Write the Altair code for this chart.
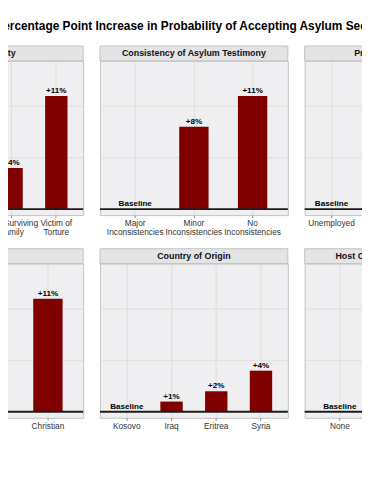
import altair as alt
import pandas as pd

TITLE = "Percentage Point Increase in Probability of Accepting Asylum Seeker"

# Panel names (facet strips), in reading order
panel_names = [
    "Vulnerability",
    "Consistency of Asylum Testimony",
    "Previous Occupation",
    "Religion",
    "Country of Origin",
    "Host Country Language Skills",
]

# Categories (tick labels) per panel ("\n" marks a line break)
vuln_cats = ["None", "PTSD", "Sole Surviving\nFamily", "Victim of\nTorture"]
consist_cats = ["Major\nInconsistencies", "Minor\nInconsistencies", "No\nInconsistencies"]
occup_cats = ["Unemployed", "Farmer", "Teacher", "Doctor"]
relig_cats = ["Muslim", "Agnostic", "Christian"]
origin_cats = ["Kosovo", "Iraq", "Eritrea", "Syria"]
lang_cats = ["None", "Broken", "Fluent"]

# Percentage point increases (0 = baseline level)
vuln_vals = [0, 5, 4, 11]
consist_vals = [0, 8, 11]
occup_vals = [0, 6, 8, 10]
relig_vals = [0, 7, 11]
origin_vals = [0, 1, 2, 4]
lang_vals = [0, 3, 6]

# horizontal grid positions (percentage points)
grid_vals = [5, 10]

PANEL_W = 190
PANEL_H = 156
STRIP_H = 15
BAR_COLOR = "#800000"


def panel(name, cats, vals):
    df = pd.DataFrame({"cat": cats, "val": vals})
    df["lab"] = ["Baseline" if v == 0 else f"+{v}%" for v in vals]

    x = alt.X(
        "cat:N",
        sort=cats,
        scale=alt.Scale(paddingInner=0.5, paddingOuter=0.35),
        axis=alt.Axis(
            title=None,
            labelAngle=0,
            grid=True,
            bandPosition=0.5,
            labelExpr="split(datum.label, '\\n')",
        ),
    )
    yscale = alt.Scale(domain=[-0.58, 14.42], nice=False, zero=False)
    y = alt.Y("val:Q", scale=yscale, axis=None)

    strip_df = pd.DataFrame({"t": [name], "z": [0]})
    grid_df = pd.DataFrame({"g": grid_vals})

    grid = alt.Chart(grid_df).mark_rule(color="#DADADA", strokeWidth=0.8).encode(
        y=alt.Y("g:Q", scale=yscale, axis=None)
    )
    strip = alt.Chart(strip_df).mark_rect(
        fill="#E4E4E6", stroke="#C2C2C2", strokeWidth=1
    ).encode(
        x=alt.value(0), x2=alt.value(PANEL_W), y=alt.value(-STRIP_H), y2=alt.value(0)
    )
    strip_text = alt.Chart(strip_df).mark_text(
        fontSize=9, fontWeight="bold", color="#111111", baseline="middle", align="center"
    ).encode(x=alt.value(PANEL_W / 2), y=alt.value(-STRIP_H / 2), text="t:N")

    bars = alt.Chart(df).mark_bar(color=BAR_COLOR).encode(x=x, y=y, y2=alt.datum(0))
    zero = alt.Chart(strip_df).mark_rule(color="#1c1c1c", strokeWidth=2).encode(
        y=alt.Y("z:Q", scale=yscale, axis=None)
    )
    labels = alt.Chart(df).mark_text(
        fontSize=8.2, fontWeight="bold", color="#000000", baseline="alphabetic", dy=-3
    ).encode(x=x, y=y, text="lab:N")

    return alt.layer(grid, strip, bars, zero, labels, strip_text).properties(
        width=PANEL_W, height=PANEL_H
    )


panels = [
    panel(panel_names[0], vuln_cats, vuln_vals),
    panel(panel_names[1], consist_cats, consist_vals),
    panel(panel_names[2], occup_cats, occup_vals),
    panel(panel_names[3], relig_cats, relig_vals),
    panel(panel_names[4], origin_cats, origin_vals),
    panel(panel_names[5], lang_cats, lang_vals),
]

chart = (
    alt.concat(*panels, columns=3, spacing={"row": 49, "column": 17}, bounds="flush")
    .properties(
        title=alt.TitleParams(
            text=TITLE,
            fontSize=12,
            fontWeight="bold",
            color="#000000",
            anchor="middle",
            frame="bounds",
            dx=-4,
            offset=12,
        ),
        padding={"left": -116, "top": 10, "right": -134, "bottom": 5},
    )
    .configure(font="Liberation Sans")
    .configure_view(fill="#EFEFF1", stroke="#C2C2C2", strokeWidth=1)
    .configure_axis(
        gridColor="#DADADA",
        gridWidth=0.8,
        labelFontSize=8.4,
        labelColor="#333333",
        labelLineHeight=8.8,
        labelPadding=1,
        tickColor="#8a8a8a",
        tickSize=2.5,
        domain=False,
        minExtent=0,
    )
)

chart.save("out.html", embed_options={"renderer": "svg", "actions": False})
